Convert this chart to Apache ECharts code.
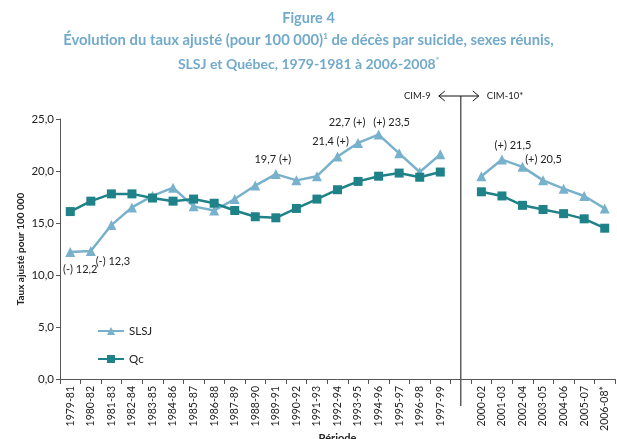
<!DOCTYPE html>
<html>
<head>
<meta charset="utf-8">
<script src="https://cdn.jsdelivr.net/npm/echarts@6/dist/echarts.min.js"></script>
<style>
html,body{margin:0;padding:0;background:#fff;}
#main{width:617px;height:439px;}
</style>
</head>
<body>
<div id="main"></div>
<script>
// ---- data ----
var categories = ['1979-81','1980-82','1981-83','1982-84','1983-85','1984-86','1985-87','1986-88','1987-89','1988-90','1989-91','1990-92','1991-93','1992-94','1993-95','1994-96','1995-97','1996-98','1997-99','','2000-02','2001-03','2002-04','2003-05','2004-06','2005-07','2006-08*'];
var slsjValues = [12.2,12.3,14.8,16.5,17.6,18.4,16.6,16.2,17.3,18.6,19.7,19.1,19.5,21.4,22.7,23.5,21.7,19.9,21.6,null,19.5,21.1,20.4,19.1,18.3,17.6,16.4];
var qcValues = [16.1,17.1,17.8,17.8,17.4,17.1,17.3,16.9,16.2,15.6,15.5,16.4,17.3,18.2,19.0,19.5,19.8,19.4,19.9,null,18.0,17.6,16.7,16.3,15.9,15.4,14.5];
var slsjLabels = ['(-) 12,2','(-) 12,3','','','','','','','','','19,7 (+)','','','21,4 (+)','22,7 (+)','(+) 23,5','','','','','','(+) 21,5','(+) 20,5','','','',''];
var yTicks = [0,5,10,15,20,25];
var gapIndex = 19;

// label offsets (style, not data)
var labelOffsets = {0:[10,17],1:[22,10],10:[-3,-15],13:[-7,-15],14:[-11,-20],15:[13,-12],21:[11,-14],22:[21,-7]};

var FONT = 'Lato, "Open Sans", sans-serif';
var SLSJ_COLOR = '#78b1cb';
var QC_COLOR = '#1f8289';
var TITLE_COLOR = '#72aacb';

var slsjData = slsjValues.map(function(v,i){
  var item = {value: v};
  if (slsjLabels[i]) {
    item.label = {show:true, position:'inside', offset: labelOffsets[i], formatter: slsjLabels[i],
      color:'#222', fontSize:11, fontFamily: FONT};
  }
  return item;
});

function rich(size){
  return {
    a:{fontFamily:FONT, fontSize:size, fontWeight:'bold', color:TITLE_COLOR},
    s:{fontFamily:FONT, fontSize:8, fontWeight:'bold', color:TITLE_COLOR, padding:[0,0,9,0]}
  };
}

var chart = echarts.init(document.getElementById('main'), null, {renderer:'canvas'});
var option = {
  animation:false,
  backgroundColor:'#fff',
  textStyle:{fontFamily: FONT},
  title:[
    {left:'center', top:6, text:'Figure 4',
     textStyle:{fontFamily:FONT, fontSize:14.5, fontWeight:'bold', color:TITLE_COLOR}},
    {left:'center', top:27, text:'{a|Évolution du taux ajusté (pour 100 000)}{s|1}{a| de décès par suicide, sexes réunis,}',
     textStyle:{rich:rich(14.8)}},
    {left:'center', top:51, text:'{a|SLSJ et Québec, 1979-1981 à 2006-2008}{s|*}',
     textStyle:{rich:rich(14)}}
  ],
  legend:{
    left:92, top:320, orient:'vertical', itemWidth:26, itemHeight:10, itemGap:16,
    textStyle:{fontFamily:FONT, fontSize:11.5, color:'#222'},
    data:['SLSJ','Qc']
  },
  grid:{left:60, right:2, top:119, bottom:60, containLabel:false, outerBoundsMode:'none'},
  xAxis:{
    type:'category', data:categories, boundaryGap:true,
    name:'Période', nameLocation:'middle', nameGap:54, nameMoveOverlap:false,
    nameTextStyle:{fontFamily:FONT, fontSize:11, fontWeight:'bold', color:'#222'},
    axisLine:{lineStyle:{color:'#555', width:1}},
    axisTick:{show:true, length:5, alignWithLabel:false, interval:0, lineStyle:{color:'#555'}},
    axisLabel:{rotate:90, interval:0, fontSize:10.5, color:'#222', fontFamily:FONT, margin:7}
  },
  yAxis:{
    type:'value', min:0, max:25, interval:5,
    name:'Taux ajusté pour 100 000', nameLocation:'middle', nameRotate:90, nameGap:34, nameMoveOverlap:false,
    nameTextStyle:{fontFamily:FONT, fontSize:10, fontWeight:'bold', color:'#222'},
    axisLine:{show:true, lineStyle:{color:'#555', width:1}},
    axisTick:{show:true, length:4, lineStyle:{color:'#555'}},
    splitLine:{show:false},
    axisLabel:{fontSize:11.5, color:'#222', fontFamily:FONT, margin:6,
      formatter:function(v){return v.toFixed(1).replace('.', ',');}}
  },
  series:[
    {name:'SLSJ', type:'line', data:slsjData, connectNulls:false,
     symbol:'triangle', symbolSize:10, itemStyle:{color:SLSJ_COLOR},
     lineStyle:{color:SLSJ_COLOR, width:2.5}, z:2},
    {name:'Qc', type:'line', data:qcValues, connectNulls:false,
     symbol:'rect', symbolSize:9, itemStyle:{color:QC_COLOR},
     lineStyle:{color:QC_COLOR, width:2.5}, z:3}
  ]
};
chart.setOption(option);

var gx = chart.convertToPixel({xAxisIndex:0}, gapIndex);
var yTop = 96, yBot = 406;
chart.setOption({graphic:[
  {type:'line', shape:{x1:gx, y1:yTop, x2:gx, y2:yBot}, style:{stroke:'#111', lineWidth:1}, silent:true},
  {type:'line', shape:{x1:gx-22, y1:yTop, x2:gx+18, y2:yTop}, style:{stroke:'#111', lineWidth:1}},
  {type:'polyline', shape:{points:[[gx-16,yTop-5],[gx-22,yTop],[gx-16,yTop+5]]}, style:{stroke:'#111', fill:null, lineWidth:1}},
  {type:'polyline', shape:{points:[[gx+12,yTop-5],[gx+18,yTop],[gx+12,yTop+5]]}, style:{stroke:'#111', fill:null, lineWidth:1}},
  {type:'text', x:gx-30, y:yTop, style:{text:'CIM-9', align:'right', verticalAlign:'middle', fontSize:9.5, fontFamily:FONT, fill:'#222'}},
  {type:'text', x:gx+26, y:yTop, style:{text:'CIM-10*', align:'left', verticalAlign:'middle', fontSize:9.5, fontFamily:FONT, fill:'#222'}}
]});
</script>
</body>
</html>
